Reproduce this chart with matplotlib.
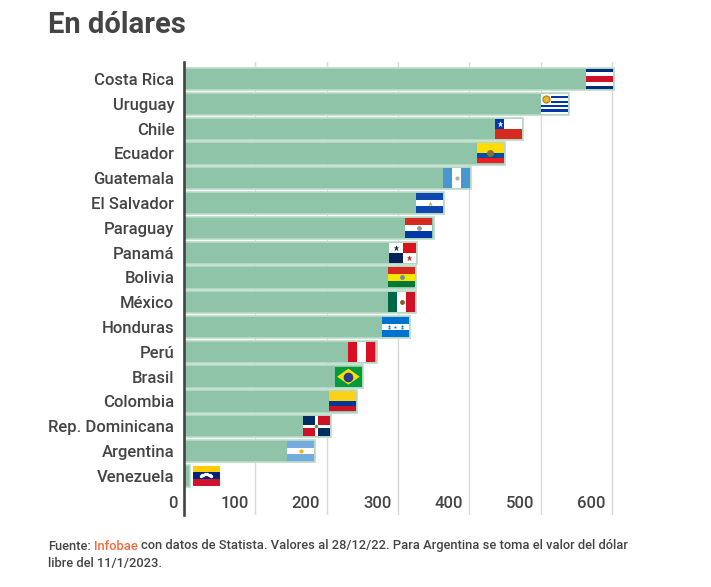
import numpy as np
import matplotlib.pyplot as plt
import matplotlib.transforms as mtransforms
from matplotlib.patches import Rectangle, Polygon

plt.rcParams['font.family'] = ['Roboto', 'DejaVu Sans']

# ----- Data -----
countries = ["Costa Rica", "Uruguay", "Chile", "Ecuador", "Guatemala", "El Salvador",
             "Paraguay", "Panamá", "Bolivia", "México", "Honduras", "Perú", "Brasil",
             "Colombia", "Rep. Dominicana", "Argentina", "Venezuela"]
values = [603, 540, 476, 450, 403, 365, 350, 327, 326, 326, 317, 270, 251, 243, 206, 184, 9]
ticks = [0, 100, 200, 300, 400, 500, 600]

BAR = "#8fc4a8"
EDGE = "#b9dcc9"
TXT = "#444444"

# ----- Figure -----
fig = plt.figure(figsize=(7.11, 5.87), dpi=100)
W, H = 711, 587
ax = fig.add_axes([184 / W, 1 - 515 / H, 436 / W, 453 / H])

y = np.arange(len(countries))
ax.barh(y, values, height=0.9, color=BAR, edgecolor=EDGE, linewidth=1.2, zorder=2)

ax.set_xlim(0, 611.5)
ax.set_ylim(17.58, -0.69)
ax.set_xticks(ticks[1:])
ax.grid(axis="x", color="#d9d9d9", linewidth=1)
ax.set_axisbelow(True)
ax.tick_params(axis="x", length=0, labelbottom=False)
ax.set_yticks(y, labels=countries)
ax.tick_params(axis="y", length=0, pad=7, labelsize=12, labelcolor=TXT)
for lab in ax.get_yticklabels():
    lab.set_fontweight("medium")
for s in ["top", "right", "bottom"]:
    ax.spines[s].set_visible(False)
ax.spines["left"].set_color(TXT)
ax.spines["left"].set_linewidth(1.9)
ax.spines["left"].set_zorder(6)

# tick labels inside the plot, right aligned to the gridline
trans = mtransforms.offset_copy(ax.get_xaxis_transform(), fig=fig, x=-4.5, y=0, units="points")
for t in ticks:
    ax.text(t, 0.025, str(t), transform=trans, ha="right", va="center",
            fontsize=12, color=TXT, fontweight="medium")


# ----- Flags -----
def rect(x, y0, w, h, c, z=4):
    ax.add_patch(Rectangle((x, y0), w, h, facecolor=c, edgecolor="none", zorder=z))


def hstripes(x, y0, w, h, colors, weights=None):
    weights = weights or [1] * len(colors)
    tot = sum(weights)
    yy = y0
    for c, wt in zip(colors, weights):
        rect(x, yy, w, h * wt / tot, c)
        yy += h * wt / tot


def vstripes(x, y0, w, h, colors):
    n = len(colors)
    for i, c in enumerate(colors):
        rect(x + w * i / n, y0, w / n, h, c)


def dot(x, y0, c, ms=4, m="o", ec="none"):
    ax.plot([x], [y0], marker=m, color=c, markersize=ms, markeredgecolor=ec, zorder=5)


def draw_flag(name, x, y0, w, h):
    cx, cy = x + w / 2, y0 + h / 2
    if name == "Costa Rica":
        hstripes(x, y0, w, h, ["#002b7f", "white", "#ce1126", "white", "#002b7f"], [1, 1, 2, 1, 1])
    elif name == "Uruguay":
        hstripes(x, y0, w, h, ["white", "#0038a8"] * 4 + ["white"])
        rect(x, y0, w * 0.37, h * 5 / 9, "white", z=4.5)
        dot(x + w * 0.18, y0 + h * 0.27, "#e8b923", ms=5, ec="#b08a2e")
    elif name == "Chile":
        hstripes(x, y0, w, h, ["white", "#d52b1e"])
        rect(x, y0, w / 3, h / 2, "#0039a6", z=4.5)
        dot(x + w / 6, y0 + h / 4, "white", ms=5, m="*")
    elif name == "Ecuador":
        hstripes(x, y0, w, h, ["#ffdd00", "#034ea2", "#ed1c24"], [2, 1, 1])
        dot(cx, cy, "#8a6d3b", ms=5)
    elif name == "Guatemala":
        vstripes(x, y0, w, h, ["#4997d0", "white", "#4997d0"])
        dot(cx, cy, "#a8b59a", ms=3)
    elif name == "El Salvador":
        hstripes(x, y0, w, h, ["#0f47af", "white", "#0f47af"])
        dot(cx, cy, "#c9b458", ms=3, m="^")
    elif name == "Paraguay":
        hstripes(x, y0, w, h, ["#d52b1e", "white", "#0038a8"])
        dot(cx, cy, "#999999", ms=3.5)
    elif name == "Panamá":
        rect(x, y0, w, h, "white")
        rect(x + w / 2, y0, w / 2, h / 2, "#da121a", z=4.5)
        rect(x, y0 + h / 2, w / 2, h / 2, "#072357", z=4.5)
        dot(x + w / 4, y0 + h / 4, "#072357", ms=5, m="*")
        dot(x + 3 * w / 4, y0 + 3 * h / 4, "#da121a", ms=5, m="*")
    elif name == "Bolivia":
        hstripes(x, y0, w, h, ["#d52b1e", "#f9e300", "#007934"])
        dot(cx, cy, "#6b8fa8", ms=3.5)
    elif name == "México":
        vstripes(x, y0, w, h, ["#006847", "white", "#ce1126"])
        dot(cx, cy, "#8b5a2b", ms=3.5)
    elif name == "Honduras":
        hstripes(x, y0, w, h, ["#0073cf", "white", "#0073cf"])
        for dx, dy in [(-0.25, -0.06), (-0.25, 0.06), (0, 0), (0.25, -0.06), (0.25, 0.06)]:
            dot(cx + dx * w, cy + dy * h, "#0073cf", ms=2.5, m="*")
    elif name == "Perú":
        vstripes(x, y0, w, h, ["#d91023", "white", "#d91023"])
    elif name == "Brasil":
        rect(x, y0, w, h, "#009c3b")
        ax.add_patch(Polygon([(x + w * 0.08, cy), (cx, y0 + h * 0.1), (x + w * 0.92, cy),
                              (cx, y0 + h * 0.9)], closed=True, facecolor="#ffdf00",
                             edgecolor="none", zorder=4.5))
        dot(cx, cy, "#2a3d8f", ms=7)
    elif name == "Colombia":
        hstripes(x, y0, w, h, ["#fcd116", "#003893", "#ce1126"], [2, 1, 1])
    elif name == "Rep. Dominicana":
        rect(x, y0, w, h, "white")
        gw, gh = w * 0.06, h * 0.08
        rect(x, y0, w / 2 - gw, h / 2 - gh, "#002d62", z=4.5)
        rect(x + w / 2 + gw, y0, w / 2 - gw, h / 2 - gh, "#ce1126", z=4.5)
        rect(x, y0 + h / 2 + gh, w / 2 - gw, h / 2 - gh, "#ce1126", z=4.5)
        rect(x + w / 2 + gw, y0 + h / 2 + gh, w / 2 - gw, h / 2 - gh, "#002d62", z=4.5)
        dot(cx, cy, "#6a8f5a", ms=2.5)
    elif name == "Argentina":
        hstripes(x, y0, w, h, ["#74acdf", "white", "#74acdf"])
        dot(cx, cy, "#f6b40e", ms=3)
    elif name == "Venezuela":
        hstripes(x, y0, w, h, ["#ffcc00", "#00247d", "#cf142b"])
        ang = np.linspace(np.pi * 0.85, np.pi * 0.15, 8)
        ax.plot(cx + w * 0.22 * np.cos(ang), y0 + h * 0.62 - h * 0.2 * np.sin(ang),
                linestyle="none", marker="o", color="white", markersize=1.4, zorder=5)


fw = 27 / (436 / 611.5)
fh = 20 / 24.8
for i, (c, v) in enumerate(zip(countries, values)):
    if v > fw + 5:
        x0 = v - fw - 1.5
    else:
        x0 = v + 3
    draw_flag(c, x0, i - fh / 2, fw, fh)

# ----- Title -----
fig.text(48 / W, 1 - 25 / H, "En dólares", fontsize=21, fontweight="bold",
         color=TXT, va="center", ha="left")

# ----- Footer -----
r = fig.canvas.get_renderer()
fs = 9.3
y1 = 1 - 546 / H
t_a = fig.text(48 / W, y1, "Fuente:", fontsize=fs, color=TXT, va="center", fontweight="medium")
t_ff = fig.text(0, 0, "FF", fontsize=fs, fontweight="medium")
t_fsf = fig.text(0, 0, "F F", fontsize=fs, fontweight="medium")
sp = t_fsf.get_window_extent(r).width - t_ff.get_window_extent(r).width
t_ff.remove()
t_fsf.remove()
bb = t_a.get_window_extent(r)
t_b = fig.text((bb.x1 + sp) / W, y1, "Infobae", fontsize=fs, color="#f26b3a", va="center",
               fontweight="medium")
bb = t_b.get_window_extent(r)
fig.text((bb.x1 + sp) / W, y1,
         "con datos de Statista. Valores al 28/12/22. Para Argentina se toma el valor del dólar",
         fontsize=fs, color=TXT, va="center", fontweight="medium")
fig.text(48 / W, 1 - 564 / H, "libre del 11/1/2023.", fontsize=fs, color=TXT, va="center",
         fontweight="medium")

fig.savefig("out.png", dpi=100)
